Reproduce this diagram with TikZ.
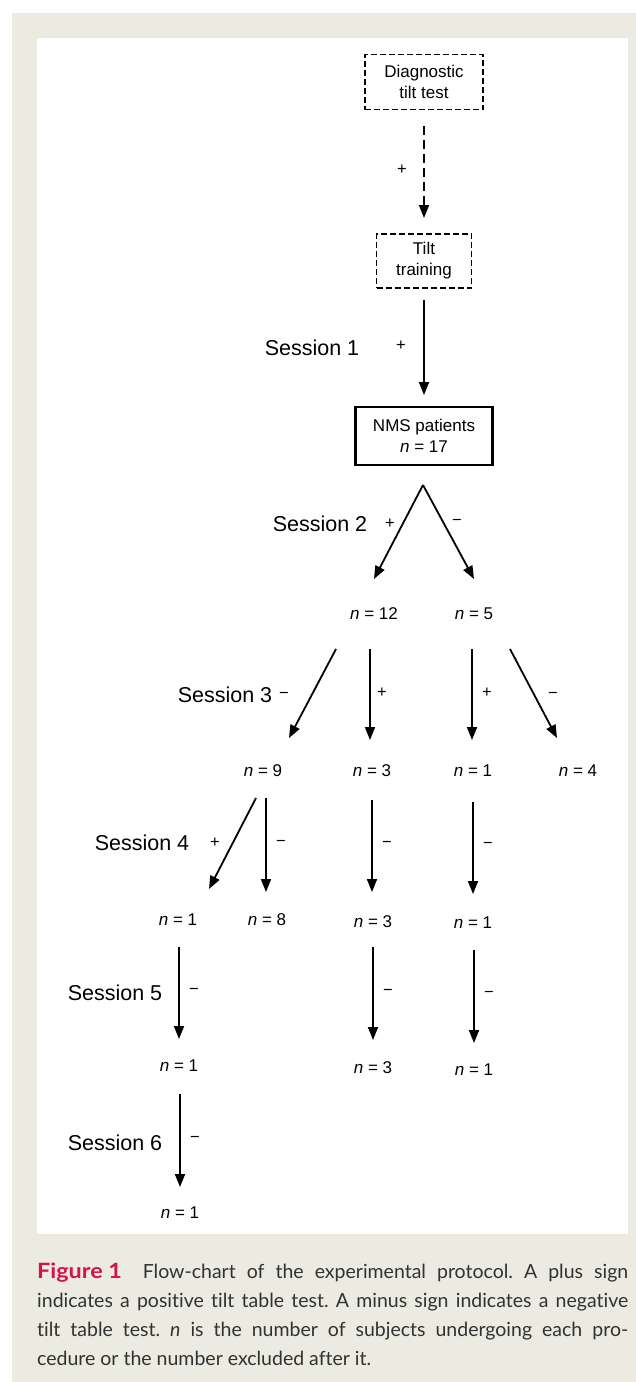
\documentclass[tikz,border=0pt]{standalone}
\usepackage{fontspec}
\usepackage{graphicx}
\setmainfont{Liberation Sans}
\newfontfamily\capfont[Ligatures=NoCommon]{Lato}
\usetikzlibrary{arrows.meta}
\definecolor{beige}{RGB}{236,235,225}
\definecolor{figred}{RGB}{214,18,70}
\definecolor{captext}{RGB}{50,50,50}
\begin{document}
\begin{tikzpicture}[x=1pt,y=-1pt,
  box/.style={draw, line width=1.3pt, dash pattern=on 6pt off 3pt, minimum width=#1, inner sep=0pt, align=center, font=\fontsize{17}{21}\selectfont},
  thickbox/.style={draw, line width=2.4pt, minimum width=137pt, minimum height=58pt, inner sep=0pt, align=center, font=\fontsize{17}{21}\selectfont},
  lbl/.style={inner sep=0pt, font=\fontsize{17}{20}\selectfont},
  sess/.style={inner sep=0pt, font=\fontsize{21.5}{24}\selectfont},
  sgn/.style={inner sep=0pt, font=\fontsize{16.5}{18}\selectfont},
  arr/.style={line width=1.8pt, -{Triangle[width=10pt,length=13pt]}},
  darr/.style={arr, dash pattern=on 9pt off 5pt}
]
\useasboundingbox (0,0) rectangle (636,1382);
\fill[beige] (12,13) rectangle (636,1382);
\fill[white] (37,38) rectangle (628,1234);

% boxes
\node[box=118pt, minimum height=55pt] (diag) at (424,82) {Diagnostic\\tilt test};
\node[box=95pt, minimum height=54pt] (tilt) at (424,261) {Tilt\\training};
\node[thickbox] (nms) at (424,436) {NMS patients\\\textit{n} = 17};

% session labels
\node[sess] (s1) at (312,348) {Session 1};
\node[sess] (s2) at (320,524) {Session 2};
\node[sess] (s3) at (225,695) {Session 3};
\node[sess] (s4) at (142,843) {Session 4};
\node[sess] (s5) at (115,993) {Session 5};
\node[sess] (s6) at (115,1143) {Session 6};

% n labels
\node[lbl] (n12) at (374,614) {\textit{n} = 12};
\node[lbl] (n5)  at (474,614) {\textit{n} = 5};
\node[lbl] (n9)  at (263,771) {\textit{n} = 9};
\node[lbl] (n3a) at (372,771) {\textit{n} = 3};
\node[lbl] (n1a) at (473,771) {\textit{n} = 1};
\node[lbl] (n4)  at (578,771) {\textit{n} = 4};
\node[lbl] (n1b) at (178,920) {\textit{n} = 1};
\node[lbl] (n8)  at (267,920) {\textit{n} = 8};
\node[lbl] (n3b) at (373,922) {\textit{n} = 3};
\node[lbl] (n1c) at (473,923) {\textit{n} = 1};
\node[lbl] (n1d) at (179,1066) {\textit{n} = 1};
\node[lbl] (n3c) at (373,1068) {\textit{n} = 3};
\node[lbl] (n1e) at (474,1070) {\textit{n} = 1};
\node[lbl] (n1f) at (180,1213) {\textit{n} = 1};

% signs
\node[sgn] (p0) at (402,170) {+};
\node[sgn] (p1) at (401,346) {+};
\node[sgn] (p2) at (390,524) {+};
\node[sgn] (m2) at (457,522) {−};
\node[sgn] (m3a) at (284,695) {−};
\node[sgn] (p3b) at (382,693) {+};
\node[sgn] (p3c) at (487,693) {+};
\node[sgn] (m3d) at (553,695) {−};
\node[sgn] (p4a) at (215,843) {+};
\node[sgn] (m4b) at (281,843) {−};
\node[sgn] (m4c) at (387,844) {−};
\node[sgn] (m4d) at (488,845) {−};
\node[sgn] (m5a) at (194,991) {−};
\node[sgn] (m5b) at (388,992) {−};
\node[sgn] (m5c) at (489,994) {−};
\node[sgn] (m6a) at (195,1139) {−};

% arrows
\draw[darr] ([shift={(0,44)}]diag.center) -- ([shift={(0,-43)}]tilt.center);
\draw[arr] ([shift={(0,39)}]tilt.center) -- ([shift={(0,-41)}]nms.center);
\draw[arr] ([shift={(-1,49)}]nms.center) -- ([shift={(0,-35)}]n12.center);
\draw[arr] ([shift={(-1,49)}]nms.center) -- ([shift={(0,-35)}]n5.center);
\draw[arr] ([shift={(-38,35)}]n12.center) -- ([shift={(26,-33)}]n9.center);
\draw[arr] ([shift={(-4,35)}]n12.center) -- ([shift={(-2,-31)}]n3a.center);
\draw[arr] ([shift={(-2,35)}]n5.center) -- ([shift={(-1,-31)}]n1a.center);
\draw[arr] ([shift={(36,35)}]n5.center) -- ([shift={(-21,-33)}]n4.center);
\draw[arr] ([shift={(-7,27)}]n9.center) -- ([shift={(31,-31)}]n1b.center);
\draw[arr] ([shift={(3,27)}]n9.center) -- ([shift={(-1,-28)}]n8.center);
\draw[arr] ([shift={(0,29)}]n3a.center) -- ([shift={(-1,-30)}]n3b.center);
\draw[arr] ([shift={(0,31)}]n1a.center) -- ([shift={(0,-29)}]n1c.center);
\draw[arr] ([shift={(1,27)}]n1b.center) -- ([shift={(0,-27)}]n1d.center);
\draw[arr] ([shift={(0,25)}]n3b.center) -- ([shift={(0,-28)}]n3c.center);
\draw[arr] ([shift={(1,27)}]n1c.center) -- ([shift={(0,-27)}]n1e.center);
\draw[arr] ([shift={(1,28)}]n1d.center) -- ([shift={(0,-26)}]n1f.center);

% caption
\node[anchor=north west, inner sep=0pt, text width=591pt, align=justify,
      text=captext, font=\capfont\fontsize{19.5}{29}\selectfont] (cap) at (37,1263)
{\frenchspacing\hyphenpenalty=10000\exhyphenpenalty=10000\textcolor{figred}{\scalebox{1.2}[1.08]{\textbf{Figure 1}}}\hspace{0.5em} Flow-chart of the experimental protocol. A plus sign\linebreak
indicates a positive tilt table test. A minus sign indicates a negative\linebreak
tilt table test. \textit{n} is the number of subjects undergoing each pro-\linebreak
cedure or the number excluded after it.};
\end{tikzpicture}
\end{document}
